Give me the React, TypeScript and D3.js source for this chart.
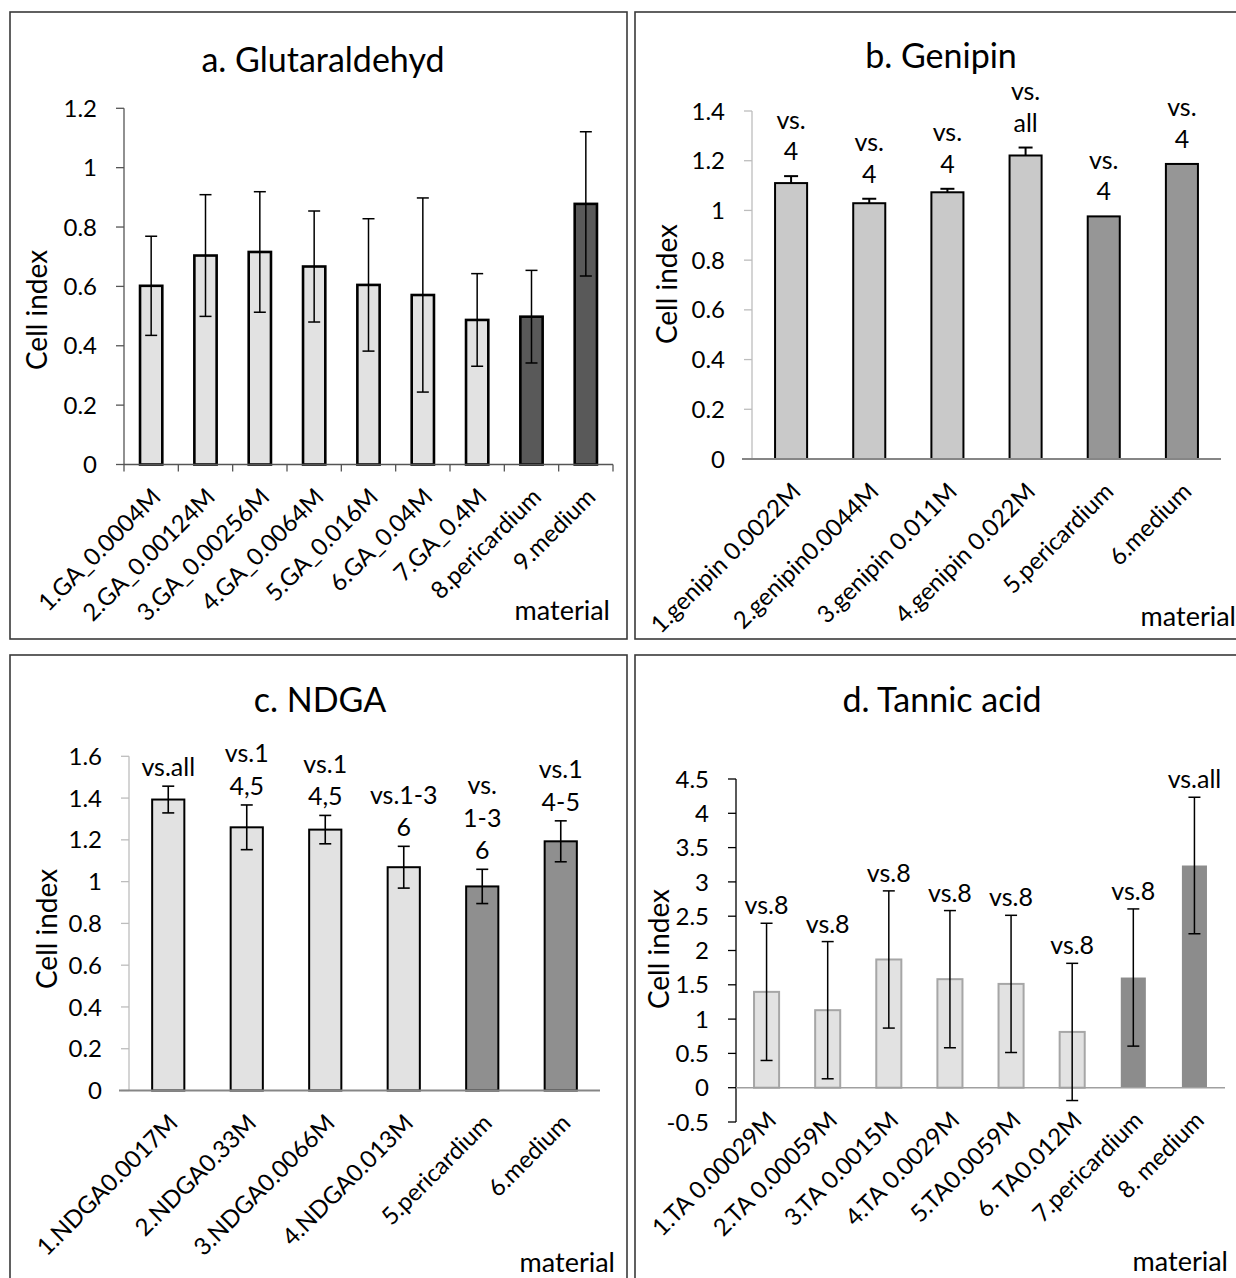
import React from "react";
import * as d3 from "d3";

// ---------- data ----------
const aCategories = ["1.GA_0.0004M", "2.GA_0.00124M", "3.GA_0.00256M", "4.GA_0.0064M", "5.GA_0.016M", "6.GA_0.04M", "7.GA_0.4M", "8.pericardium", "9.medium"];
const aValues = [0.602, 0.704, 0.716, 0.667, 0.605, 0.571, 0.487, 0.498, 0.878];
const aErrors = [0.167, 0.205, 0.203, 0.187, 0.223, 0.327, 0.156, 0.156, 0.243];
const aControl = [false, false, false, false, false, false, false, true, true];
const aTicks = [0, 0.2, 0.4, 0.6, 0.8, 1, 1.2];
const aNotes: string[] = [];

const bCategories = ["1.genipin 0.0022M", "2.genipin0.0044M", "3.genipin 0.011M", "4.genipin 0.022M", "5.pericardium", "6.medium"];
const bValues = [1.11, 1.029, 1.073, 1.221, 0.976, 1.187];
const bErrors = [0.028, 0.018, 0.014, 0.032, 0, 0];
const bControl = [false, false, false, false, true, true];
const bTicks = [0, 0.2, 0.4, 0.6, 0.8, 1, 1.2, 1.4];
const bNotes = ["vs.\n4", "vs.\n4", "vs.\n4", "vs.\nall", "vs.\n4", "vs.\n4"];

const cCategories = ["1.NDGA0.0017M", "2.NDGA0.33M", "3.NDGA0.0066M", "4.NDGA0.013M", "5.pericardium", "6.medium"];
const cValues = [1.393, 1.26, 1.249, 1.069, 0.977, 1.193];
const cErrors = [0.064, 0.107, 0.068, 0.1, 0.082, 0.098];
const cControl = [false, false, false, false, true, true];
const cTicks = [0, 0.2, 0.4, 0.6, 0.8, 1, 1.2, 1.4, 1.6];
const cNotes = ["vs.all", "vs.1\n4,5", "vs.1\n4,5", "vs.1-3\n6", "vs.\n1-3\n6", "vs.1\n4-5"];

const dCategories = ["1.TA 0.00029M", "2.TA 0.00059M", "3.TA 0.0015M", "4.TA 0.0029M", "5.TA0.0059M", "6. TA0.012M", "7.pericardium", "8. medium"];
const dValues = [1.397, 1.13, 1.869, 1.582, 1.513, 0.813, 1.606, 3.239];
const dErrors = [1.0, 1.0, 1.0, 1.0, 1.0, 1.0, 1.0, 0.995];
const dControl = [false, false, false, false, false, false, true, true];
const dTicks = [-0.5, 0, 0.5, 1, 1.5, 2, 2.5, 3, 3.5, 4, 4.5];
const dNotes = ["vs.8", "vs.8", "vs.8", "vs.8", "vs.8", "vs.8", "vs.8", "vs.all"];

const FONT = "Lato, 'Open Sans', sans-serif";

type PanelProps = {
  frame: { x: number; y: number; w: number; h: number };
  title: string;
  titleX: number;
  titleY: number;
  x0: number;
  x1: number;
  yTopPx: number;
  yBotPx: number;
  domain: [number, number];
  ticks: number[];
  categories: string[];
  values: number[];
  errors: number[];
  control: boolean[];
  notes: string[];
  errMode: "both" | "plus";
  lightFill: string;
  darkFill: string;
  lightStroke: string;
  darkStroke: string;
  barStrokeW: number;
  yAxisColor: string;
  xAxisColor: string;
  xAxisW: number;
  xAxisLeftExt: number;
  catTicks: boolean;
  capW: number;
  errW: number;
  noteOffset: number;
  noteLine: number;
  yLabelX: number;
  yLabelY: number;
  matX: number;
  matY: number;
};

function Panel(p: PanelProps) {
  const x = d3.scaleBand<string>().domain(p.categories).range([p.x0, p.x1]).paddingInner(0).paddingOuter(0);
  const y = d3.scaleLinear().domain(p.domain).range([p.yBotPx, p.yTopPx]);
  const bw = x.bandwidth() * 0.41;
  const zeroY = y(0);
  const tickFs = 24;
  const catFs = 24;
  return (
    <g>
      <rect x={p.frame.x} y={p.frame.y} width={p.frame.w} height={p.frame.h} fill="#fff" stroke="#3a3a3a" strokeWidth={1.6} />
      <text x={p.titleX} y={p.titleY} textAnchor="middle" fontSize={34} fontFamily={FONT} fill="#000">
        {p.title}
      </text>
      {/* y axis */}
      <line x1={p.x0} x2={p.x0} y1={p.yTopPx} y2={p.yBotPx} stroke={p.yAxisColor} strokeWidth={1.3} />
      {p.ticks.map((t) => (
        <g key={"t" + t}>
          <line x1={p.x0 - 8} x2={p.x0} y1={y(t)} y2={y(t)} stroke={p.yAxisColor} strokeWidth={1.3} />
          <text x={p.x0 - 27} y={y(t)} dy="0.36em" textAnchor="end" fontSize={tickFs} fontFamily={FONT} fill="#000">
            {String(t)}
          </text>
        </g>
      ))}
      {/* bars */}
      {p.categories.map((c, i) => {
        const cx = (x(c) as number) + x.bandwidth() / 2;
        const v = p.values[i];
        const top = Math.min(y(v), zeroY);
        const hgt = Math.abs(y(v) - zeroY);
        const dark = p.control[i];
        const stroke = dark ? p.darkStroke : p.lightStroke;
        return (
          <rect
            key={"b" + i}
            x={cx - bw / 2}
            y={top}
            width={bw}
            height={hgt}
            fill={dark ? p.darkFill : p.lightFill}
            stroke={stroke}
            strokeWidth={stroke === "none" ? 0 : p.barStrokeW}
          />
        );
      })}
      {/* x axis */}
      <line x1={p.x0 - p.xAxisLeftExt} x2={p.x1} y1={zeroY} y2={zeroY} stroke={p.xAxisColor} strokeWidth={p.xAxisW} />
      {p.catTicks &&
        d3.range(p.categories.length + 1).map((k) => {
          const tx = p.x0 + k * x.step();
          return <line key={"ct" + k} x1={tx} x2={tx} y1={zeroY} y2={zeroY + 7} stroke={p.xAxisColor} strokeWidth={1.3} />;
        })}
      {/* error bars */}
      {p.categories.map((c, i) => {
        const e = p.errors[i];
        if (!e) return null;
        const cx = (x(c) as number) + x.bandwidth() / 2;
        const v = p.values[i];
        const hi = y(v + e);
        const lo = p.errMode === "both" ? y(v - e) : y(v);
        return (
          <g key={"e" + i} stroke="#000" strokeWidth={p.errW}>
            <line x1={cx} x2={cx} y1={hi} y2={lo} />
            <line x1={cx - p.capW / 2} x2={cx + p.capW / 2} y1={hi} y2={hi} />
            {p.errMode === "both" && <line x1={cx - p.capW / 2} x2={cx + p.capW / 2} y1={lo} y2={lo} />}
          </g>
        );
      })}
      {/* annotations */}
      {p.notes.map((n, i) => {
        const c = p.categories[i];
        const cx = (x(c) as number) + x.bandwidth() / 2;
        const v = p.values[i] + (p.errors[i] || 0);
        const lines = n.split("\n");
        const lastCenter = y(v) - p.noteOffset;
        return (
          <g key={"n" + i}>
            {lines.map((ln, j) => (
              <text
                key={j}
                x={cx}
                y={lastCenter - (lines.length - 1 - j) * p.noteLine}
                dy="0.36em"
                textAnchor="middle"
                fontSize={25}
                fontFamily={FONT}
                fill="#000"
              >
                {ln}
              </text>
            ))}
          </g>
        );
      })}
      {/* category labels */}
      {p.categories.map((c, i) => {
        const cx = (x(c) as number) + x.bandwidth() / 2;
        const ax = cx + 5;
        const ay = zeroY + 28;
        return (
          <text
            key={"l" + i}
            x={ax}
            y={ay}
            dy="0.36em"
            textAnchor="end"
            fontSize={catFs}
            fontFamily={FONT}
            fill="#000"
            transform={`rotate(-45 ${ax} ${ay})`}
          >
            {c}
          </text>
        );
      })}
      {/* axis titles */}
      <text
        x={p.yLabelX}
        y={p.yLabelY}
        dy="0.36em"
        textAnchor="middle"
        fontSize={28}
        fontFamily={FONT}
        fill="#000"
        transform={`rotate(-90 ${p.yLabelX} ${p.yLabelY})`}
      >
        Cell index
      </text>
      <text x={p.matX} y={p.matY} textAnchor="end" fontSize={27} fontFamily={FONT} fill="#000">
        material
      </text>
    </g>
  );
}

export default function App() {
  return (
    <svg
      width={1236}
      height={1278}
      style={{ position: "absolute", left: 0, top: 0, background: "#fff" }}
      xmlns="http://www.w3.org/2000/svg"
    >
      <rect x={0} y={0} width={1236} height={1278} fill="#fff" />
      <Panel
        frame={{ x: 10, y: 12, w: 617, h: 627 }}
        title="a. Glutaraldehyd"
        titleX={323}
        titleY={72}
        x0={124}
        x1={613}
        yTopPx={108.3}
        yBotPx={464.5}
        domain={[0, 1.2]}
        ticks={aTicks}
        categories={aCategories}
        values={aValues}
        errors={aErrors}
        control={aControl}
        notes={aNotes}
        errMode="both"
        lightFill="#e2e2e2"
        darkFill="#595959"
        lightStroke="#000"
        darkStroke="#000"
        barStrokeW={2.6}
        yAxisColor="#555"
        xAxisColor="#555"
        xAxisW={1.5}
        xAxisLeftExt={0}
        catTicks={true}
        capW={12}
        errW={1.5}
        noteOffset={20}
        noteLine={32}
        yLabelX={37}
        yLabelY={310}
        matX={610}
        matY={620}
      />
      <Panel
        frame={{ x: 635, y: 12, w: 700, h: 627 }}
        title="b. Genipin"
        titleX={941}
        titleY={68}
        x0={752}
        x1={1221}
        yTopPx={111}
        yBotPx={459}
        domain={[0, 1.4]}
        ticks={bTicks}
        categories={bCategories}
        values={bValues}
        errors={bErrors}
        control={bControl}
        notes={bNotes}
        errMode="plus"
        lightFill="#c9c9c9"
        darkFill="#969696"
        lightStroke="#000"
        darkStroke="#000"
        barStrokeW={2}
        yAxisColor="#bdbdbd"
        xAxisColor="#868686"
        xAxisW={2}
        xAxisLeftExt={10}
        catTicks={false}
        capW={14}
        errW={2}
        noteOffset={25}
        noteLine={31.5}
        yLabelX={667}
        yLabelY={284}
        matX={1236}
        matY={626}
      />
      <Panel
        frame={{ x: 10, y: 655, w: 617, h: 700 }}
        title="c. NDGA"
        titleX={320}
        titleY={712}
        x0={129}
        x1={600}
        yTopPx={756.3}
        yBotPx={1090.5}
        domain={[0, 1.6]}
        ticks={cTicks}
        categories={cCategories}
        values={cValues}
        errors={cErrors}
        control={cControl}
        notes={cNotes}
        errMode="both"
        lightFill="#e2e2e2"
        darkFill="#8f8f8f"
        lightStroke="#000"
        darkStroke="#000"
        barStrokeW={2}
        yAxisColor="#bdbdbd"
        xAxisColor="#868686"
        xAxisW={2}
        xAxisLeftExt={10}
        catTicks={false}
        capW={12}
        errW={1.6}
        noteOffset={19}
        noteLine={32.5}
        yLabelX={47}
        yLabelY={929}
        matX={615}
        matY={1272}
      />
      <Panel
        frame={{ x: 635, y: 655, w: 700, h: 700 }}
        title="d. Tannic acid"
        titleX={942}
        titleY={712}
        x0={736}
        x1={1225}
        yTopPx={779}
        yBotPx={1122}
        domain={[-0.5, 4.5]}
        ticks={dTicks}
        categories={dCategories}
        values={dValues}
        errors={dErrors}
        control={dControl}
        notes={dNotes}
        errMode="both"
        lightFill="#e2e2e2"
        darkFill="#8c8c8c"
        lightStroke="#a6a6a6"
        darkStroke="none"
        barStrokeW={2}
        yAxisColor="#000"
        xAxisColor="#a0a0a0"
        xAxisW={1.6}
        xAxisLeftExt={0}
        catTicks={false}
        capW={12}
        errW={1.5}
        noteOffset={18}
        noteLine={32}
        yLabelX={659}
        yLabelY={949}
        matX={1228}
        matY={1271}
      />
    </svg>
  );
}
